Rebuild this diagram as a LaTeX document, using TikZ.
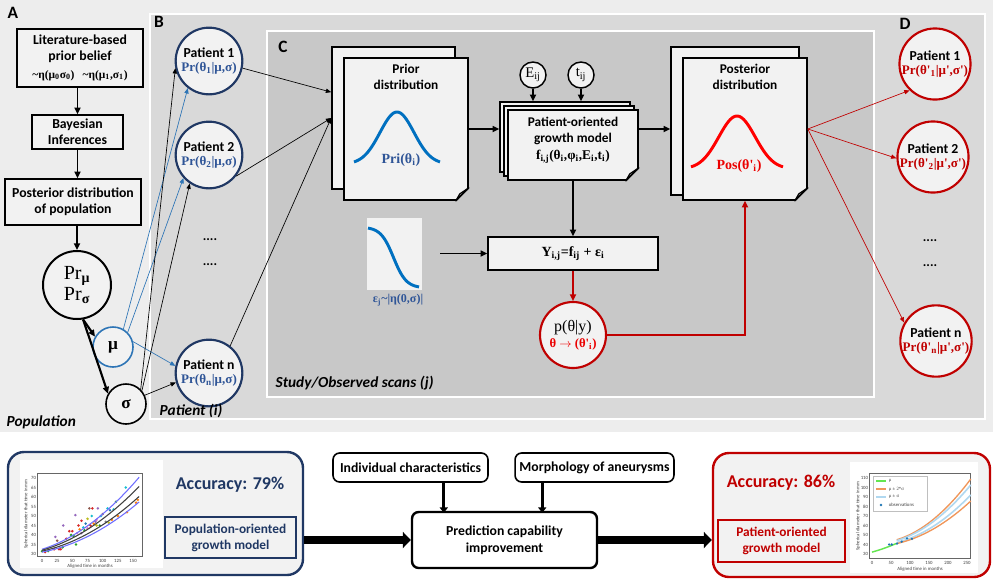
\documentclass[tikz,border=0pt]{standalone}
\usepackage{fontspec}
\setmainfont{Carlito}
\newfontfamily\sr{Liberation Serif}
\usetikzlibrary{arrows.meta,calc}
\definecolor{bgA}{RGB}{237,237,237}
\definecolor{bgB}{RGB}{217,217,217}
\definecolor{bgC}{RGB}{200,200,200}
\definecolor{pagef}{RGB}{242,242,242}
\definecolor{navy}{RGB}{32,56,100}
\definecolor{ptxt}{RGB}{47,85,151}
\definecolor{bluec}{RGB}{0,112,192}
\definecolor{mublue}{RGB}{46,117,182}
\definecolor{dred}{RGB}{192,0,0}
\definecolor{bred}{RGB}{235,0,0}
\definecolor{tblue}{RGB}{31,119,180}
\definecolor{torange}{RGB}{255,127,14}
\definecolor{tgreen}{RGB}{44,160,44}
\definecolor{tred}{RGB}{214,39,40}
\definecolor{tpurple}{RGB}{148,103,189}
\definecolor{tbrown}{RGB}{140,86,75}
\definecolor{tpink}{RGB}{227,119,194}
\definecolor{tgray}{RGB}{127,127,127}
\definecolor{tolive}{RGB}{188,189,34}
\definecolor{tcyan}{RGB}{23,190,207}
\definecolor{lblue}{RGB}{176,216,240}
\definecolor{lorange}{RGB}{240,150,90}
\definecolor{lgreen}{RGB}{100,230,80}
\definecolor{pblue}{RGB}{110,110,255}
\newcommand\dogear[1]{%
  \fill[bgC] ($(#1.south east)+(-13,1)$) -- ($(#1.south east)+(1,1)$) -- ($(#1.south east)+(1,-13)$) -- cycle;
  \filldraw[fill=gray!55, draw=black, line width=0.9pt, line join=round] ($(#1.south east)+(-13,0)$) -- ($(#1.south east)+(0,-13)$) -- ($(#1.south east)+(-9,-7)$) -- cycle;
  \draw[line width=1.2pt] ($(#1.south east)+(-13,0)$) -- ($(#1.south east)+(0,-13)$);}
\tikzset{
  lbl/.style={font=\fontsize{13}{15}\selectfont\bfseries},
  abox/.style={draw, line width=1.2pt, fill=pagef, align=center, inner sep=1pt, font=\fontsize{10.3}{12}\selectfont\bfseries},
  pat/.style={circle, draw=navy, line width=1.6pt, fill=pagef, minimum size=50pt, inner sep=0pt, align=center, font=\fontsize{10.3}{10.3}\selectfont\bfseries},
  patr/.style={pat, draw=dred},
  page/.style={draw, line width=1.2pt, fill=pagef, inner sep=0pt},
  ttl/.style={align=center, font=\fontsize{10}{12.5}\selectfont\bfseries},
  arr/.style={-{Triangle[length=5pt,width=4.5pt]}, line width=1.2pt},
  thinarr/.style={-{Triangle[length=4pt,width=3.2pt]}, line width=0.5pt},
  bigarr/.style={-{Triangle[length=6pt,width=12pt]}, line width=5.5pt},
  medarr/.style={-{Triangle[length=4pt,width=6pt]}, line width=2.2pt},
  ital/.style={font=\fontsize{11.5}{13}\selectfont\bfseries\itshape},
  rbox/.style={draw, rounded corners=5pt, line width=1.2pt, fill=white, align=center, font=\fontsize{10.3}{12.5}\selectfont\bfseries},
  tick/.style={font=\fontsize{3.6}{4}\selectfont, inner sep=0.5pt, text=black!75},
  dots/.style={font=\fontsize{10}{10}\selectfont\bfseries}
}
\begin{document}
\begin{tikzpicture}[x=0.75pt,y=-0.75pt]
\useasboundingbox (0,0) rectangle (993,583);
\fill[white] (0,0) rectangle (993,583);
\fill[bgA] (0,0) rectangle (993,432);
\filldraw[fill=bgB,draw=white,line width=2pt] (150,14) rectangle (985,419);
\filldraw[fill=bgC,draw=white,line width=2pt] (267,31) rectangle (874,397);

\node[lbl] (la) at (13,13) {A};
\node[lbl] (lb) at (159,22) {B};
\node[lbl] (lc) at (283,47) {C};
\node[lbl] (ld) at (905,24) {D};

% ---------- Panel A
\node[abox, minimum width=94.5pt, minimum height=43.5pt] (lit) at (80,58) {Literature-based\\prior belief\\[1pt]{\sr\fontsize{8.6}{10}\selectfont\textasciitilde η(μ\textsubscript{0}σ\textsubscript{0})\hspace{6pt}\textasciitilde η(μ\textsubscript{1},σ\textsubscript{1})}};
\node[abox, minimum width=68pt, minimum height=25.5pt] (bay) at (77.5,132) {Bayesian\\Inferences};
\node[abox, minimum width=102pt, minimum height=34.5pt] (post) at (73,202) {Posterior distribution\\of population};
\node[circle, draw, line width=1.5pt, fill=pagef, minimum size=51pt, inner sep=0pt, align=center, font=\sr\fontsize{15}{16}\selectfont] (pr) at (77,285) {Pr\textsubscript{\bfseries μ}\\Pr\textsubscript{\bfseries σ}};
\node[circle, draw=mublue, line width=1.2pt, fill=pagef, minimum size=30pt, inner sep=0pt, font=\sr\bfseries\fontsize{13}{13}\selectfont] (mu) at (113,347) {μ};
\node[circle, draw, line width=1.2pt, fill=pagef, minimum size=30pt, inner sep=0pt, font=\sr\bfseries\fontsize{13}{13}\selectfont] (sig) at (126,404) {σ};
\node[ital, anchor=west] (popl) at (2,422) {Population};
\draw[arr] (lit.south -| bay.north) -- (bay.north);
\draw[arr] (bay.south) -- (bay.south |- post.north);
\draw[arr] (post.south -| pr.north) -- (pr.north);
\draw[arr, line width=1.6pt] (pr.-80) -- (mu.150);
\draw[arr, line width=1.6pt] (pr.-80) -- (sig.150);

% ---------- Panel B
\node[pat] (p1) at (209,61) {Patient 1\\{\sr\fontsize{9.8}{10}\selectfont\color{ptxt}Pr(θ\textsubscript{1}|μ,σ)}};
\node[pat] (p2) at (209,155) {Patient 2\\{\sr\fontsize{9.8}{10}\selectfont\color{ptxt}Pr(θ\textsubscript{2}|μ,σ)}};
\node[pat] (pn) at (209,373) {Patient n\\{\sr\fontsize{9.8}{10}\selectfont\color{ptxt}Pr(θ\textsubscript{n}|μ,σ)}};
\node[dots] (bd1) at (210,240) {....};
\node[dots] (bd2) at (210,265) {....};
\node[ital, anchor=west] (patl) at (155,411) {Patient (i)};
\draw[thinarr, mublue] (mu.60) -- (p1.232);
\draw[thinarr, mublue] (mu.45) -- (p2.222);
\draw[thinarr, mublue] (mu.15) -- (pn.168);
\draw[thinarr] (sig.45) -- (p1.192);
\draw[thinarr] (sig.40) -- (p2.236);
\draw[thinarr] (sig.25) -- (pn.196);

% ---------- Panel C
\node[page, minimum width=92.25pt, minimum height=106.5pt] (priorb) at (393.5,118) {};
\node[page, minimum width=93pt, minimum height=106.5pt] (priorf) at (406,129) {};
\dogear{priorf}
\node[ttl] (priort) at (406,77) {Prior\\distribution};
\draw[bluec, line width=2.2pt] plot[domain=-1:1,samples=60] ({397+43*\x},{164-52*exp(-3.2*\x*\x)});
\node[font=\sr\bfseries\fontsize{10.5}{11}\selectfont, text=ptxt] (prit) at (401,160) {Pri(θ\textsubscript{i})};

\draw[thinarr] (p1.-12) -- ($(priorb.north west)!0.32!(priorb.south west)$);
\draw[thinarr] (p2.-38) -- (priorb.west);
\draw[thinarr] (pn.52) -- (priorb.west);

\node[page, minimum width=97.5pt, minimum height=52.5pt] (gb) at (565,137) {};
\node[page, minimum width=97.5pt, minimum height=52.5pt] (gm) at (569,141) {};
\node[page, minimum width=97.5pt, minimum height=52.5pt] (gf) at (573,145) {};
\dogear{gf}
\node[ttl] (gt) at (573,140) {Patient-oriented\\growth model\\{\sr\fontsize{10}{12}\selectfont f\textsubscript{i,j}(θ\textsubscript{i},φ\textsubscript{i},E\textsubscript{i},t\textsubscript{i})}};
\node[circle, draw, line width=1.1pt, fill=pagef, minimum size=19.5pt, inner sep=0pt, font=\sr\fontsize{11}{11}\selectfont] (E) at (533,75) {E\textsubscript{ij}};
\node[circle, draw, line width=1.1pt, fill=pagef, minimum size=19.5pt, inner sep=0pt, font=\sr\fontsize{11}{11}\selectfont] (tij) at (581,75) {t\textsubscript{ij}};
\draw[arr] (E) -- (E |- gb.north);
\draw[arr] (tij) -- (tij |- gb.north);
\draw[arr] (priorf.east) -- (priorf.east -| gb.west);

\node[page, minimum width=96pt, minimum height=111pt] (postb) at (735,121) {};
\dogear{postb}
\node[page, minimum width=93pt, minimum height=106.5pt] (postf) at (745,129) {};
\dogear{postf}
\node[ttl] (postt) at (745,77) {Posterior\\distribution};
\draw[red, line width=2.2pt] plot[domain=-1:1,samples=60] ({737+46*\x},{169-53*exp(-3.2*\x*\x)});
\node[font=\sr\bfseries\fontsize{10.5}{11}\selectfont, text=bred] (post t) at (739,166) {Pos(θ'\textsubscript{i})};
\draw[arr] (gf.east |- priorf.east) -- (postb.west |- priorf.east);

\node[page, minimum width=127.5pt, minimum height=24.75pt, font=\sr\bfseries\fontsize{10.5}{12}\selectfont] (ybox) at (573,253.5) {Y\textsubscript{i,j}=f\textsubscript{ij} + ε\textsubscript{i}};
\draw[arr] (gf.south) -- (ybox.north);
\node[fill=pagef, minimum width=41.25pt, minimum height=54pt, inner sep=0pt] (noise) at (394.5,254) {};
\draw[bluec, line width=2.2pt] plot[domain=0:1,samples=40] ({368+51*\x},{227+61/(1+exp(-8*(\x-0.5)))});
\node[font=\sr\bfseries\fontsize{9}{10}\selectfont, text=ptxt] (epsl) at (398,300) {ε\textsubscript{j}\textasciitilde|η(0,σ)|};
\coordinate (nz) at (440,253.5);
\draw[arr] (nz) -- (ybox.west);

\node[circle, draw=dred, line width=1.6pt, fill=pagef, minimum size=49.5pt, inner sep=0pt, align=center] (pc) at (573,335) {{\sr\fontsize{12}{14}\selectfont p(θ|y)}\\{\sr\bfseries\fontsize{9.5}{10}\selectfont\color{bred}θ $\rightarrow$ (θ'\textsubscript{i})}};
\draw[arr, dred] (ybox.south) -- (pc.north);
\draw[arr, dred, line width=1.6pt] (pc.east) -| (postf.south);
\node[ital, anchor=west] (studl) at (271,383) {Study/Observed scans (j)};

% ---------- Panel D
\node[patr] (r1) at (935,64) {Patient 1\\{\sr\fontsize{9.8}{10}\selectfont\color{dred}Pr(θ'\textsubscript{1}|μ',σ')}};
\node[patr] (r2) at (933,157) {Patient 2\\{\sr\fontsize{9.8}{10}\selectfont\color{dred}Pr(θ'\textsubscript{2}|μ',σ')}};
\node[patr] (rn) at (936,341) {Patient n\\{\sr\fontsize{9.8}{10}\selectfont\color{dred}Pr(θ'\textsubscript{n}|μ',σ')}};
\node[dots] (dd1) at (930,241) {....};
\node[dots] (dd2) at (930,266) {....};
\draw[thinarr, dred] (postf.east) -- (r1.226);
\draw[thinarr, dred] (postf.east) -- (r2.182);
\draw[thinarr, dred] (postf.east) -- (rn.150);

% ---------- Bottom
\node[draw=navy, line width=1.8pt, rounded corners=12pt, fill=pagef, minimum width=221.25pt, minimum height=92.25pt] (lbox) at (155.5,513.5) {};
\node[fill=white, minimum width=107pt, minimum height=81pt, inner sep=0pt] (lplot) at (91.5,514) {};
\draw[black!60, line width=0.4pt] (37,473) rectangle (142,556);
\foreach \t in {0,25,50,75,100,125,150} \node[tick] at ({42+\t*0.607},561) {\t};
\foreach \v in {30,35,40,45,50,55,60,65,70} \node[tick, anchor=east] at (37,{554-1.9*(\v-30)}) {\v};
\node[tick, rotate=90] at (26,514) {Spherical diameter that time in mm};
\node[tick] at (90,566) {Aligned time in months};
\foreach \t/\v/\c in {0/31.5/tgreen,5/31/tred,10/31.5/tgreen,20/32.5/tred,22/39/tpurple,25/37/tbrown,28/32.5/tred,31/32.5/tred,34/33.5/tgreen,35/45/tpurple,45/42/tred,50/42/tred,52/39.5/tgreen,55/50.5/tpurple,56/35/tgreen,58/41/tpink,60/45/tred,62/43/torange,65/47.5/tred,68/44/tcyan,70/42.5/tgreen,72/46/tblue,75/48.5/tolive,78/54/tbrown,80/45/tred,82/50/tcyan,83/54/tred,85/46/torange,88/47/tpurple,90/48/tpink,92/54/tpurple,95/45/tgreen,97/50/tcyan,100/51/tbrown,105/47/tgray,108/54/tcyan,112/53/tblue,115/48/torange,118/53.5/tcyan,122/57.5/tgreen,125/50/torange,138/65/tcyan,140/52/torange,155/57/torange,158/58.5/torange,110/46.5/tolive,90/45/tolive,75/43.5/tpink,65/41/tpurple,48/40/tgreen,40/38/tred}
  \fill[\c] ({42+\t*0.607},{554-1.9*(\v-30)}) circle (1.4);
\draw[pblue, line width=0.8pt] plot[domain=0:160,samples=30] ({42+\x*0.607},{554-1.9*(2.5+0.1*\x+0.00086*\x*\x)});
\draw[black!75, line width=0.8pt] plot[domain=0:160,samples=30] ({42+\x*0.607},{554-1.9*(2+0.09*\x+0.00075*\x*\x)});
\draw[black!75, line width=0.8pt] plot[domain=0:160,samples=30] ({42+\x*0.607},{554-1.9*(1.5+0.07*\x+0.00068*\x*\x)});
\draw[pblue, line width=0.8pt] plot[domain=0:160,samples=30] ({42+\x*0.607},{554-1.9*(1+0.06*\x+0.00066*\x*\x)});
\node[font=\fontsize{13.5}{15}\selectfont\bfseries, text=navy] (acc1) at (230,485) {Accuracy: 79\%};
\node[draw=navy, line width=1.2pt, fill=pagef, minimum width=98.25pt, minimum height=30.75pt, align=center, text=navy, font=\fontsize{10}{12}\selectfont\bfseries] (pbox) at (230.5,537.5) {Population-oriented\\growth model};

\node[rbox, minimum width=116.25pt, minimum height=21.75pt] (ind) at (410.5,467.5) {Individual characteristics};
\node[rbox, minimum width=116.25pt, minimum height=21.75pt] (morph) at (594.5,467.5) {Morphology of aneurysms};
\node[rbox, minimum width=138.75pt, minimum height=42pt, line width=1.8pt] (pred) at (504.5,540) {Prediction capability\\improvement};
\draw[medarr] ($(ind.south east)+(-45,0)$) -- ++(0,30);
\draw[medarr] ($(morph.south west)+(28,0)$) -- ++(0,30);

\node[draw=dred, line width=1.8pt, rounded corners=12pt, fill=pagef, minimum width=207.75pt, minimum height=93pt] (rbx) at (851.5,515) {};
\draw[bigarr] (lbox.east |- pred.west) -- (pred.west);
\draw[bigarr] (pred.east) -- (rbx.west |- pred.east);
\node[font=\fontsize{13.5}{15}\selectfont\bfseries, text=dred] (acc2) at (781,483) {Accuracy: 86\%};
\node[draw=dred, line width=1.2pt, fill=pagef, minimum width=95.25pt, minimum height=31.5pt, align=center, text=dred, font=\fontsize{10}{12}\selectfont\bfseries] (obox) at (781.5,541) {Patient-oriented\\growth model};
\node[fill=white, minimum width=96pt, minimum height=83.25pt, inner sep=0pt] (rplot) at (914,517.5) {};
\draw[black!60, line width=0.4pt] (869,473) rectangle (970,558);
\foreach \t in {0,50,100,150,200,250} \node[tick] at ({872+\t*0.38},563) {\t};
\foreach \v in {30,40,50,60,70,80,90,100,110} \node[tick, anchor=east] at (869,{554-0.95*(\v-30)}) {\v};
\node[tick, rotate=90] at (858,516) {Spherical diameter that time in mm};
\node[tick] at (920,569) {Aligned time in months};
\draw[lgreen, line width=1.1pt] plot[domain=0:65,samples=20] ({872+\x*0.38},{554-0.95*(2+0.11*\x+0.0005*\x*\x)});
\draw[lorange, line width=1pt] plot[domain=65:260,samples=30] ({872+\x*0.38},{554-0.95*(15+0.12*(\x-65)+0.001068*(\x-65)*(\x-65))});
\draw[lblue, line width=1.2pt] plot[domain=65:260,samples=30] ({872+\x*0.38},{554-0.95*(14+0.12*(\x-65)+0.000936*(\x-65)*(\x-65))});
\draw[lblue, line width=1.2pt] plot[domain=65:260,samples=30] ({872+\x*0.38},{554-0.95*(12+0.1*(\x-65)+0.000802*(\x-65)*(\x-65))});
\draw[lorange, line width=1pt] plot[domain=65:260,samples=30] ({872+\x*0.38},{554-0.95*(11+0.09*(\x-65)+0.000722*(\x-65)*(\x-65))});
\foreach \t/\v in {45/40,52/40,66/41,78/43,92/46.5,105/46}
  \fill[tblue] ({872+\t*0.38},{554-0.95*(\v-30)}) circle (1.3);
\filldraw[fill=white, draw=black!25, line width=0.3pt] (873,476) rectangle (927,511);
\draw[lgreen, line width=1pt] (876,481) -- (886,481);
\draw[lorange, line width=1pt] (876,489) -- (886,489);
\draw[lblue, line width=1.2pt] (876,497) -- (886,497);
\fill[tblue] (881,505) circle (1.3);
\node[tick, anchor=west] at (888,481) {\sr μ};
\node[tick, anchor=west] at (888,489) {\sr μ ± 2*σ};
\node[tick, anchor=west] at (888,497) {\sr μ ± σ};
\node[tick, anchor=west] at (888,505) {observations};
\end{tikzpicture}
\end{document}
